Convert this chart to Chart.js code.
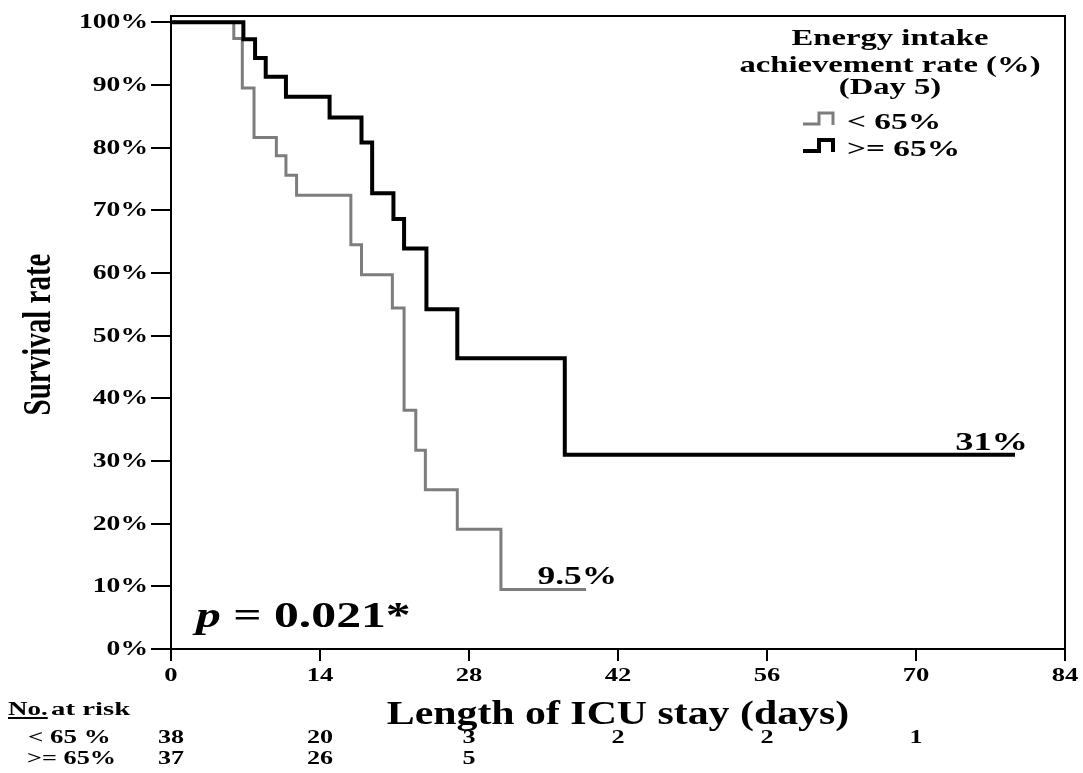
<!DOCTYPE html>
<html>
<head>
<meta charset="utf-8">
<script src="https://cdn.jsdelivr.net/npm/chart.js@4"></script>
<style>
  html, body { margin: 0; padding: 0; background: #fff; }
  #km { display: block; }
</style>
</head>
<body>
<canvas id="km" width="1083" height="773"></canvas>
<script>
// Kaplan-Meier curves (day, survival %)
const lowDays = [0, 5.9, 6.7, 7.8, 9.9, 10.8, 11.8, 16.9, 17.9, 20.8, 21.9, 23.0, 23.9, 26.9, 31.0, 39.0];
const lowSurvival = [100, 97.4, 89.5, 81.6, 78.7, 75.6, 72.4, 64.5, 59.7, 54.4, 38.1, 31.7, 25.4, 19.1, 9.5, 9.5];
const highDays = [0, 6.8, 7.9, 8.9, 10.8, 14.9, 17.9, 18.9, 20.9, 21.9, 24.0, 26.9, 37.0, 79.3];
const highSurvival = [100, 97.3, 94.3, 91.3, 88.1, 84.8, 80.8, 72.7, 68.6, 63.9, 54.2, 46.4, 31.0, 31.0];

const seriesNames = ['< 65%', '>= 65%'];
const endLabels = ['9.5%', '31%'];
const legendTitle = ['Energy intake', 'achievement rate (%)', '(Day 5)'];

const xTicks = [0, 14, 28, 42, 56, 70, 84];
const yTicks = [0, 10, 20, 30, 40, 50, 60, 70, 80, 90, 100];

// number at risk table
const riskDays = [0, 14, 28, 42, 56, 70];
const riskLabels = ['< 65 %', '>= 65%'];
const riskLow = [38, 20, 3, 2, 2, 1];
const riskHigh = [37, 26, 5];

const SERIF = "'Liberation Serif', 'Times New Roman', serif";
const GRAY = '#7d7d7d';
const BLACK = '#000000';

// the original figure is stretched sideways, so text gets drawn with a horizontal scale
function wideText(ctx, text, x, y, size, sx, align, baseline, italic) {
    ctx.save();
    ctx.translate(x, y);
    ctx.scale(sx, 1);
    ctx.font = (italic ? 'italic ' : '') + 'bold ' + size + 'px ' + SERIF;
    ctx.textAlign = align || 'left';
    ctx.textBaseline = baseline || 'alphabetic';
    ctx.fillStyle = '#000';
    ctx.fillText(text, 0, 0);
    const w = ctx.measureText(text).width * sx;
    ctx.restore();
    return w;
}

function stepSymbol(ctx, x, yBase, yTop, color, width) {
    ctx.save();
    ctx.strokeStyle = color;
    ctx.lineWidth = width;
    ctx.lineJoin = 'miter';
    ctx.beginPath();
    ctx.moveTo(x, yBase);
    ctx.lineTo(x + 16, yBase);
    ctx.lineTo(x + 16, yTop);
    ctx.lineTo(x + 30, yTop);
    ctx.lineTo(x + 30, yBase + 1);
    ctx.stroke();
    ctx.restore();
}

const decorations = {
    id: 'decorations',
    afterDraw(chart) {
        const ctx = chart.ctx;
        const area = chart.chartArea;
        const xs = chart.scales.x;
        const ys = chart.scales.y;

        // box round the plot
        ctx.save();
        ctx.strokeStyle = '#000';
        ctx.lineWidth = 2;
        ctx.beginPath();
        ctx.moveTo(area.left, area.top);
        ctx.lineTo(area.right, area.top);
        ctx.lineTo(area.right, area.bottom);
        ctx.stroke();
        ctx.restore();

        // tick labels
        ys.ticks.forEach(t => {
            wideText(ctx, t.value + '%', area.left - 23, ys.getPixelForValue(t.value) + 1, 20, 1.38, 'right', 'middle');
        });
        xs.ticks.forEach(t => {
            wideText(ctx, String(t.value), xs.getPixelForValue(t.value), area.bottom + 32, 19, 1.4, 'center');
        });

        // axis titles
        wideText(ctx, 'Length of ICU stay (days)', (area.left + area.right) / 2, area.bottom + 75, 34, 1.23, 'center');
        ctx.save();
        ctx.translate(40, (area.top + area.bottom) / 2 + 2);
        ctx.scale(1.36, 1);
        ctx.rotate(-Math.PI / 2);
        ctx.font = 'bold 29px ' + SERIF;
        ctx.textAlign = 'center';
        ctx.textBaseline = 'middle';
        ctx.fillStyle = '#000';
        ctx.fillText('Survival rate', 0, 0);
        ctx.restore();

        // legend
        const lx = 890;
        const titleY = [45, 72, 94];
        legendTitle.forEach((line, i) => wideText(ctx, line, lx, titleY[i], 23, 1.42, 'center'));
        const ds = chart.data.datasets;
        stepSymbol(ctx, 803, 124, 113, ds[0].borderColor, 3);
        wideText(ctx, seriesNames[0], 847, 129, 23, 1.45);
        stepSymbol(ctx, 803, 151, 140, ds[1].borderColor, 4);
        wideText(ctx, seriesNames[1], 847, 156, 23, 1.45);

        // end-of-curve labels
        const lowEnd = lowDays.length - 1;
        wideText(ctx, endLabels[0], xs.getPixelForValue(lowDays[lowEnd]) + 31, ys.getPixelForValue(lowSurvival[lowEnd]) - 5, 26, 1.36, 'right');
        const highEnd = highDays.length - 1;
        wideText(ctx, endLabels[1], xs.getPixelForValue(highDays[highEnd]) + 13, ys.getPixelForValue(highSurvival[highEnd]) - 5, 26, 1.4, 'right');

        // p value
        let px = 196;
        px += wideText(ctx, 'p', px, 627, 35, 1.42, 'left', 'alphabetic', true);
        wideText(ctx, ' = 0.021*', px, 627, 35, 1.42);

        // number at risk
        const nw = wideText(ctx, 'No.', 8, 715, 19, 1.42);
        ctx.save();
        ctx.fillStyle = '#000';
        ctx.fillRect(8, 717, nw, 2);
        ctx.restore();
        wideText(ctx, 'at risk', 51, 715, 18, 1.6);
        wideText(ctx, riskLabels[0], 28, 743, 19, 1.42);
        wideText(ctx, riskLabels[1], 27, 764, 18.5, 1.42);
        riskLow.forEach((n, i) => wideText(ctx, String(n), xs.getPixelForValue(riskDays[i]), 743, 18, 1.45, 'center'));
        riskHigh.forEach((n, i) => wideText(ctx, String(n), xs.getPixelForValue(riskDays[i]), 764, 18, 1.45, 'center'));
    }
};

function toPoints(xs, ys) {
    return xs.map((x, i) => ({ x: x, y: ys[i] }));
}

new Chart(document.getElementById('km').getContext('2d'), {
    type: 'line',
    data: {
        datasets: [{
            label: seriesNames[0],
            data: toPoints(lowDays, lowSurvival),
            borderColor: GRAY,
            borderWidth: 3,
            stepped: true,
            pointRadius: 0,
            fill: false,
            order: 1
        }, {
            label: seriesNames[1],
            data: toPoints(highDays, highSurvival),
            borderColor: BLACK,
            borderWidth: 4,
            stepped: true,
            pointRadius: 0,
            fill: false,
            order: 0
        }]
    },
    options: {
        responsive: false,
        devicePixelRatio: 1,
        animation: false,
        layout: { padding: { left: 0, top: 16, right: 18, bottom: 0 } },
        plugins: {
            legend: { display: false },
            tooltip: { enabled: false }
        },
        scales: {
            x: {
                type: 'linear',
                min: 0,
                max: 84,
                afterBuildTicks: scale => { scale.ticks = xTicks.map(v => ({ value: v })); },
                afterFit: scale => { scale.height = 124; },
                ticks: { display: false },
                grid: { drawOnChartArea: false, drawTicks: true, tickLength: 12, color: '#000', lineWidth: 2 },
                border: { display: true, color: '#000', width: 2 }
            },
            y: {
                type: 'linear',
                min: 0,
                max: 101,
                afterBuildTicks: scale => { scale.ticks = yTicks.map(v => ({ value: v })); },
                afterFit: scale => { scale.width = 171; },
                ticks: { display: false },
                grid: { drawOnChartArea: false, drawTicks: true, tickLength: 20, color: '#000', lineWidth: 2 },
                border: { display: true, color: '#000', width: 2 }
            }
        }
    },
    plugins: [decorations]
});
</script>
</body>
</html>
